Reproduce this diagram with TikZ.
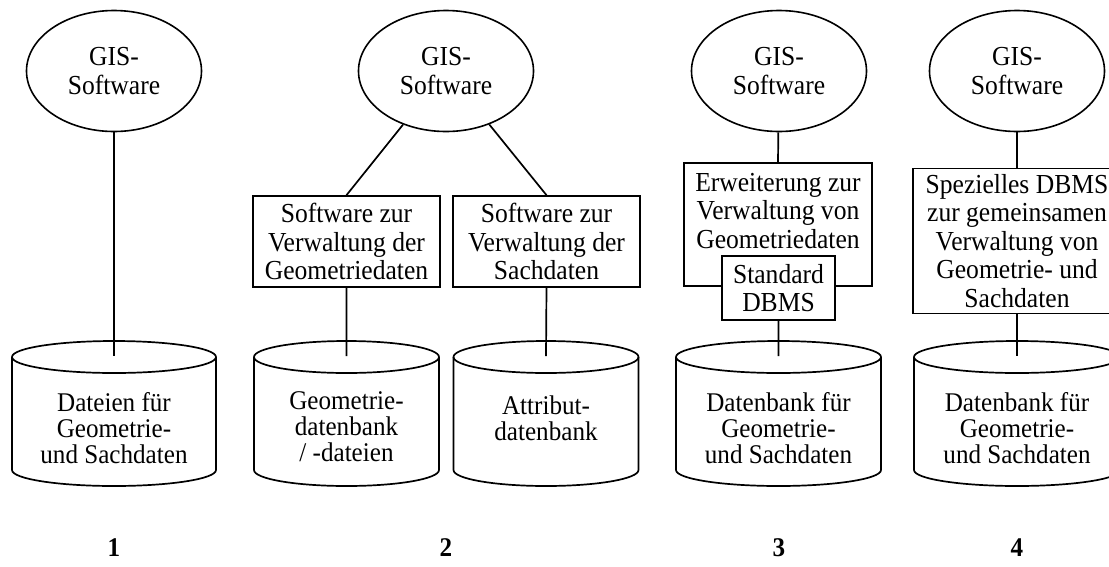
\documentclass[tikz,border=0pt]{standalone}
\usepackage{fontspec}
\setmainfont{Liberation Serif}[FakeStretch=0.93]
\usetikzlibrary{shapes.geometric}

\tikzset{
  linie/.style={line width=1.7pt},
  gis/.style={ellipse,draw,line width=1.6pt,minimum width=175pt,minimum height=121pt,inner sep=0pt,
    align=center,font=\fontsize{27.5pt}{29pt}\selectfont},
  kasten/.style={rectangle,draw,line width=1.7pt,inner sep=0pt,align=center,
    font=\fontsize{27.5pt}{28.5pt}\selectfont},
  dbtext/.style={align=center,inner sep=0pt,font=\fontsize{27pt}{26pt}\selectfont},
  nummer/.style={inner sep=0pt,font=\fontsize{27pt}{27pt}\selectfont\bfseries}
}

% cylinder: name, centre x, x radius
\newcommand{\zylinder}[3]{%
  \draw[linie] (#2-#3,-357) -- (#2-#3,-470) arc[start angle=180,end angle=360,x radius=#3pt,y radius=16pt] -- (#2+#3,-357);
  \draw[linie] (#2,-357) ellipse[x radius=#3pt,y radius=16pt];
  \coordinate (#1) at (#2,-356);}

\begin{document}
\begin{tikzpicture}[x=1pt,y=1pt]
  \useasboundingbox (0,0) rectangle (1109,-566);
  \clip (0,0) rectangle (1109,-566);
  \foreach \xx/\nn in {114/1,446/2,779/3,1017/4}{
    \node[gis] (gis\nn) at (\xx,-71) {GIS-\\Software};
    \node[nummer] (nr\nn) at (\xx,-548) {\nn};}

  % 1
  \zylinder{db1}{114}{102}
  \node[dbtext] (dt1) at (114,-428) {Dateien für\\Geometrie-\\und Sachdaten};
  \draw[linie] (gis1) -- (db1);

  % 2
  \node[kasten,minimum width=187pt,minimum height=91pt] (geo) at (346.5,-241.5) {Software zur\\Verwaltung der\\Geometriedaten};
  \node[kasten,minimum width=187pt,minimum height=91pt] (sach) at (546.5,-241.5) {Software zur\\Verwaltung der\\Sachdaten};
  \zylinder{db2a}{346.5}{92.5}
  \zylinder{db2b}{546}{92.5}
  \node[dbtext] (dt2a) at (346.5,-427) {Geometrie-\\datenbank\\/ -dateien};
  \node[dbtext] (dt2b) at (546,-418) {Attribut-\\datenbank};
  \draw[linie] (gis2) -- (geo.north) (gis2) -- (sach.north);
  \draw[linie] (geo.south) -- (db2a) (sach.south) -- (db2b);

  % 3
  \node[kasten,minimum width=188pt,minimum height=123pt] (erw) at (778,-224.5) {};
  \node[kasten,draw=none] (erwtext) at (778,-211) {Erweiterung zur\\Verwaltung von\\Geometriedaten};
  \node[kasten,fill=white,minimum width=113pt,minimum height=64pt] (std) at (778.5,-288) {Standard\\DBMS};
  \zylinder{db3}{778.5}{102.5}
  \node[dbtext] (dt3) at (778.5,-428) {Datenbank für\\Geometrie-\\und Sachdaten};
  \draw[linie] (gis3) -- (erw.north) (std.south) -- (db3);

  % 4
  \node[kasten,minimum width=208pt,minimum height=145pt] (spez) at (1017,-241) {Spezielles DBMS\\zur gemeinsamen\\Verwaltung von\\Geometrie- und\\Sachdaten};
  \zylinder{db4}{1017}{103}
  \node[dbtext] (dt4) at (1017,-428) {Datenbank für\\Geometrie-\\und Sachdaten};
  \draw[linie] (gis4) -- (spez.north) (spez.south) -- (db4);
\end{tikzpicture}
\end{document}
